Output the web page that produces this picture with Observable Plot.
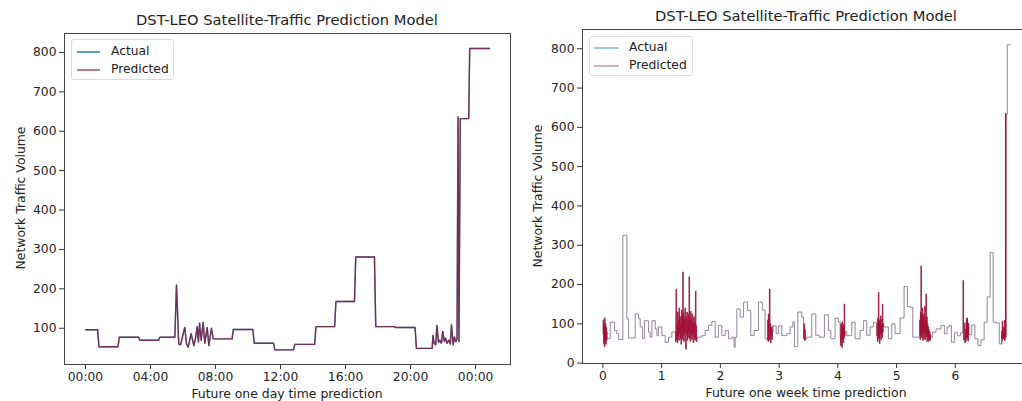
<!DOCTYPE html>
<html>
<head>
<meta charset="utf-8">
<script src="https://cdn.jsdelivr.net/npm/d3@7"></script>
<script src="https://cdn.jsdelivr.net/npm/@observablehq/plot@0.6"></script>
<style>
  html, body { margin: 0; padding: 0; background: #fff; }
  body { width: 1022px; height: 401px; overflow: hidden; position: relative; font-family: "DejaVu Sans", sans-serif; color: #222; }
  .panel { position: absolute; top: 0; height: 401px; }
  .panel svg { position: absolute; top: 24px; left: 0; }
  .title { position: absolute; text-align: center; font-size: 14.7px; line-height: 18px; white-space: nowrap; }
  .xlabel { position: absolute; text-align: center; font-size: 12.4px; line-height: 14px; white-space: nowrap; }
  .ylabel { position: absolute; width: 300px; text-align: center; font-size: 12.4px; line-height: 14px; white-space: nowrap; transform: translate(-50%, -50%) rotate(-90deg); }
  .legend { position: absolute; background: rgba(255,255,255,0.85); border: 1px solid #dcdcdc; border-radius: 3px; box-sizing: border-box; font-size: 12.3px; }
  .legend .row { position: absolute; left: 0; height: 16px; line-height: 16px; white-space: nowrap; }
  .legend .sample { position: absolute; top: 8px; height: 0; }
  .legend .lab { position: absolute; }
</style>
</head>
<body>
<div id="left" class="panel" style="left:0;width:515px"></div>
<div id="right" class="panel" style="left:515px;width:520px"></div>
<script>
// ---------- data ----------
const titleText = "DST-LEO Satellite-Traffic Prediction Model";
const yLabelText = "Network Traffic Volume";
const seriesNames = ["Actual", "Predicted"];

// One-day series: hour of the day and traffic volume
const dayHours = [
  0, 0.75, 0.83, 2.0, 2.08, 3.27, 3.35, 4.5, 4.58, 5.5,
  5.6, 5.74, 5.85, 6.11, 6.22, 6.32, 6.5, 6.67, 6.77, 6.87,
  6.95, 7.02, 7.12, 7.24, 7.34, 7.49, 7.59, 7.75, 7.86, 9.02,
  9.1, 10.3, 10.38, 11.57, 11.65, 12.8, 12.88, 14.1, 14.18, 15.33,
  15.41, 16.55, 16.63, 17.78, 17.86, 19.0, 19.08, 20.28, 20.36, 21.33,
  21.38, 21.45, 21.55, 21.62, 21.72, 21.8, 21.9, 21.98, 22.08, 22.15,
  22.25, 22.35, 22.45, 22.52, 22.62, 22.7, 22.78, 22.86, 22.92, 22.98,
  23.06, 23.58, 23.64, 24.85
];
const dayValues = [
  96, 96, 53, 53, 77, 77, 69.5, 69.5, 77, 77,
  210, 60, 58, 102, 60, 52, 86, 56, 75, 104,
  65, 113, 69, 115, 62, 102, 56, 100, 73, 73,
  97, 97, 62, 62, 45, 45, 59, 59, 104, 104,
  168, 168, 281, 281, 104, 104, 102, 102, 49, 49,
  82, 62, 58, 107, 64, 70, 62, 92, 66, 75,
  62, 70, 60, 109, 58, 78, 66, 72, 636, 66,
  632, 632, 810, 810
];

// One-week series (days 0 .. 5.9), step starts; the last day repeats the one-day series
const weekDays = [
  0, 0.006, 0.012, 0.018, 0.024, 0.030, 0.036, 0.042, 0.048, 0.054, 0.060, 0.065,
  0.068, 0.125, 0.199, 0.238, 0.267, 0.340, 0.408, 0.437, 0.550, 0.607, 0.635, 0.675,
  0.709, 0.777, 0.805, 0.834, 0.891, 0.919, 0.947, 1.004, 1.061, 1.117, 1.174,
  1.231, 1.238, 1.244, 1.248, 1.252, 1.259, 1.266, 1.272, 1.279, 1.286, 1.292, 1.299,
  1.305, 1.312, 1.318, 1.325, 1.331, 1.338, 1.344, 1.351, 1.357, 1.361, 1.366, 1.372,
  1.379, 1.385, 1.392, 1.398, 1.405, 1.412, 1.418, 1.425, 1.431, 1.438, 1.444, 1.451,
  1.458, 1.464, 1.469, 1.474, 1.481, 1.487, 1.494, 1.500, 1.507, 1.514, 1.520, 1.527,
  1.533, 1.540, 1.547, 1.553, 1.560, 1.566, 1.572, 1.577, 1.582, 1.588, 1.594,
  1.600, 1.685, 1.742, 1.798, 1.855, 1.912, 1.968, 2.025, 2.082, 2.138, 2.195, 2.235,
  2.252, 2.280, 2.337, 2.394, 2.462, 2.518, 2.575, 2.649, 2.717, 2.762,
  2.800, 2.806, 2.812, 2.818, 2.824, 2.830, 2.836, 2.842, 2.848, 2.854, 2.860, 2.866,
  2.872, 2.878, 2.884,
  2.893, 2.950, 2.989, 3.046, 3.131, 3.188, 3.233, 3.262, 3.318, 3.386, 3.415, 3.421,
  3.427, 3.433, 3.439, 3.445, 3.449, 3.471, 3.556, 3.625, 3.681, 3.772, 3.840, 3.880,
  3.953, 4.010,
  4.039, 4.045, 4.051, 4.057, 4.063, 4.069, 4.075, 4.081, 4.087, 4.093, 4.099, 4.105,
  4.110, 4.115, 4.120,
  4.152, 4.237, 4.294, 4.379, 4.436, 4.492, 4.549, 4.606,
  4.662, 4.668, 4.674, 4.680, 4.686, 4.691, 4.697, 4.703, 4.709, 4.715, 4.721, 4.727,
  4.733, 4.739, 4.745, 4.751, 4.755, 4.759, 4.764, 4.770,
  4.776, 4.861, 4.918, 4.974, 5.060, 5.128, 5.184, 5.230, 5.275,
  5.389, 5.395, 5.401, 5.407, 5.412, 5.417, 5.422, 5.428, 5.434, 5.440, 5.445, 5.451,
  5.457, 5.462, 5.468, 5.474, 5.480, 5.485, 5.491, 5.497, 5.502, 5.507, 5.513, 5.519,
  5.525, 5.531, 5.537, 5.543, 5.549, 5.555, 5.561, 5.567, 5.575,
  5.581, 5.615, 5.672, 5.757, 5.814, 5.860
];
const weekValues = [
  75, 110, 50, 95, 42, 115, 60, 100, 48, 90, 58, 80,
  62, 104, 83, 75, 60, 325, 113, 64, 125, 113, 92, 62,
  108, 79, 66, 108, 87, 70, 92, 70, 53, 66, 79,
  80, 55, 120, 188, 60, 98, 52, 130, 70, 110, 58, 140,
  75, 118, 62, 100, 48, 135, 85, 122, 60, 232, 70, 128,
  55, 112, 78, 140, 64, 35, 118, 72, 130, 58, 108, 66,
  125, 80, 220, 62, 115, 55, 132, 70, 110, 60, 125, 75,
  100, 52, 118, 68, 105, 58, 120, 183, 62, 95, 55,
  66, 70, 83, 96, 106, 66, 96, 70, 83, 62, 66, 40,
  66, 138, 117, 155, 134, 70, 83, 155, 135, 62,
  60, 110, 55, 125, 58, 95, 188, 62, 100, 52, 92, 70,
  88, 60, 80,
  95, 75, 95, 70, 75, 92, 105, 42, 130, 117, 95, 62,
  100, 58, 85, 60, 62, 66, 125, 71, 66, 123, 83, 62,
  114, 105,
  70, 45, 100, 55, 95, 40, 105, 60, 90, 52, 98, 65,
  150, 68, 80,
  70, 104, 62, 83, 108, 71, 92, 104,
  70, 100, 55, 115, 62, 180, 68, 110, 50, 105, 72, 120,
  60, 95, 75, 112, 65, 150, 80, 100,
  92, 62, 100, 75, 115, 195, 144, 142, 66,
  75, 110, 60, 130, 70, 247, 65, 120, 80, 140, 58, 115,
  72, 125, 62, 105, 145, 60, 110, 75, 176, 68, 118, 55,
  100, 62, 92, 55, 85, 60, 80, 58, 72,
  66, 79, 87, 96, 75, 92
];
const lastDayStart = 5.9; // day on which the one-day series begins in the week view

// axes
const dayTickHours = [0, 4, 8, 12, 16, 20, 24];
const dayTickLabels = ["00:00", "04:00", "08:00", "12:00", "16:00", "20:00", "00:00"];
const dayYTicks = [100, 200, 300, 400, 500, 600, 700, 800];
const weekTicks = [0, 1, 2, 3, 4, 5, 6];
const weekYTicks = [0, 100, 200, 300, 400, 500, 600, 700, 800];
const dayXLabel = "Future one day time prediction";
const weekXLabel = "Future one week time prediction";

// ---------- build tables ----------
const dayData = dayHours.map((h, i) => ({h, v: dayValues[i]}));
const weekData = weekDays.map((d, i) => ({d, v: weekValues[i]}))
  .concat(dayHours.map((h, i) => ({d: lastDayStart + h / 24, v: dayValues[i]})));
// consecutive segments of the week series; segments inside dense bursts are flagged
const weekSegs = weekData.slice(0, -1).map((p, i) => ({x1: p.d, y1: p.v, x2: weekData[i + 1].d, y2: weekData[i + 1].v}));
const shortSeg = s => s && (s.x2 - s.x1) < 0.0105;
weekSegs.forEach((s, i) => { s.dense = shortSeg(s) && (shortSeg(weekSegs[i - 1]) || shortSeg(weekSegs[i + 1])); });

const actualColor = "#2f86a8";
const predColor = "#8e0b33";
const weekActualColor = "#8b92a4";
const weekPredColor = "#a80a30";
const fontStyle = {fontFamily: "DejaVu Sans, sans-serif", fontSize: "12.3px", color: "#222", background: "transparent", overflow: "visible"};

// ---------- left panel ----------
const leftSvg = Plot.plot({
  width: 515, height: 377,
  marginLeft: 64, marginRight: 5, marginTop: 9, marginBottom: 37,
  style: fontStyle,
  x: {domain: [-1.29, 26.15]},
  y: {domain: [8, 848]},
  marks: [
    Plot.axisX({ticks: dayTickHours, tickFormat: d => dayTickLabels[dayTickHours.indexOf(d)], tickSize: 5, tickPadding: 3, label: null, stroke: "#333"}),
    Plot.axisY({ticks: dayYTicks, tickSize: 5, tickPadding: 3, label: null, stroke: "#333"}),
    Plot.line(dayData, {x: "h", y: "v", stroke: actualColor, strokeWidth: 1.4}),
    Plot.line(dayData, {x: "h", y: "v", stroke: predColor, strokeWidth: 1.4, strokeOpacity: 0.7}),
    Plot.frame({stroke: "#444", strokeWidth: 1})
  ]
});

// ---------- right panel ----------
const rightSvg = Plot.plot({
  width: 520, height: 377,
  marginLeft: 67, marginRight: 5, marginTop: 5, marginBottom: 38,
  style: fontStyle,
  x: {domain: [-0.347, 7.28]},
  y: {domain: [-1, 849]},
  marks: [
    Plot.axisX({ticks: weekTicks, tickSize: 5, tickPadding: 3, label: null, stroke: "#333"}),
    Plot.axisY({ticks: weekYTicks, tickSize: 5, tickPadding: 3, label: null, stroke: "#333"}),
    Plot.line(weekData, {x: "d", y: "v", curve: "step-after", stroke: weekActualColor, strokeWidth: 0.9}),
    Plot.link(weekSegs, {x1: "x1", y1: "y1", x2: "x2", y2: "y2", curve: "step-after", stroke: weekPredColor,
      strokeWidth: 1.2, strokeOpacity: s => s.dense ? 0.6 : 0.1}),
    Plot.frame({stroke: "#444", strokeWidth: 1})
  ]
});

// ---------- assemble ----------
function addText(parent, cls, text, css) {
  const el = document.createElement("div");
  el.className = cls;
  el.textContent = text;
  Object.assign(el.style, css);
  parent.appendChild(el);
  return el;
}
function addLegend(parent, box, sampleX, sampleW, textX, rows, colors) {
  const lg = document.createElement("div");
  lg.className = "legend";
  Object.assign(lg.style, box);
  rows.forEach((r, i) => {
    const row = document.createElement("div");
    row.className = "row";
    row.style.top = r.top + "px";
    const s = document.createElement("div");
    s.className = "sample";
    s.style.left = sampleX + "px";
    s.style.width = sampleW + "px";
    s.style.borderTop = colors[i];
    const t = document.createElement("div");
    t.className = "lab";
    t.style.left = textX + "px";
    t.textContent = seriesNames[i];
    row.appendChild(s); row.appendChild(t);
    lg.appendChild(row);
  });
  parent.appendChild(lg);
}

const left = document.getElementById("left");
left.appendChild(leftSvg);
addText(left, "title", titleText, {left: "64px", width: "446px", top: "11px"});
addText(left, "xlabel", dayXLabel, {left: "64px", width: "446px", top: "387px"});
addText(left, "ylabel", yLabelText, {left: "21px", top: "198px"});
addLegend(left, {left: "71px", top: "39px", width: "103px", height: "41px"}, 5, 23, 39,
  [{top: 3}, {top: 21}],
  ["2px solid #5a9fbb", "2px solid #c47d90"]);

const right = document.getElementById("right");
right.appendChild(rightSvg);
addText(right, "title", titleText, {left: "67px", width: "448px", top: "7px"});
addText(right, "xlabel", weekXLabel, {left: "67px", width: "448px", top: "386px"});
addText(right, "ylabel", yLabelText, {left: "23px", top: "196px"});
addLegend(right, {left: "74px", top: "36px", width: "104px", height: "40px"}, 4, 25, 39,
  [{top: 2}, {top: 20}],
  ["2px solid #9ecbd4", "2px solid #d3b1ba"]);
</script>
</body>
</html>
